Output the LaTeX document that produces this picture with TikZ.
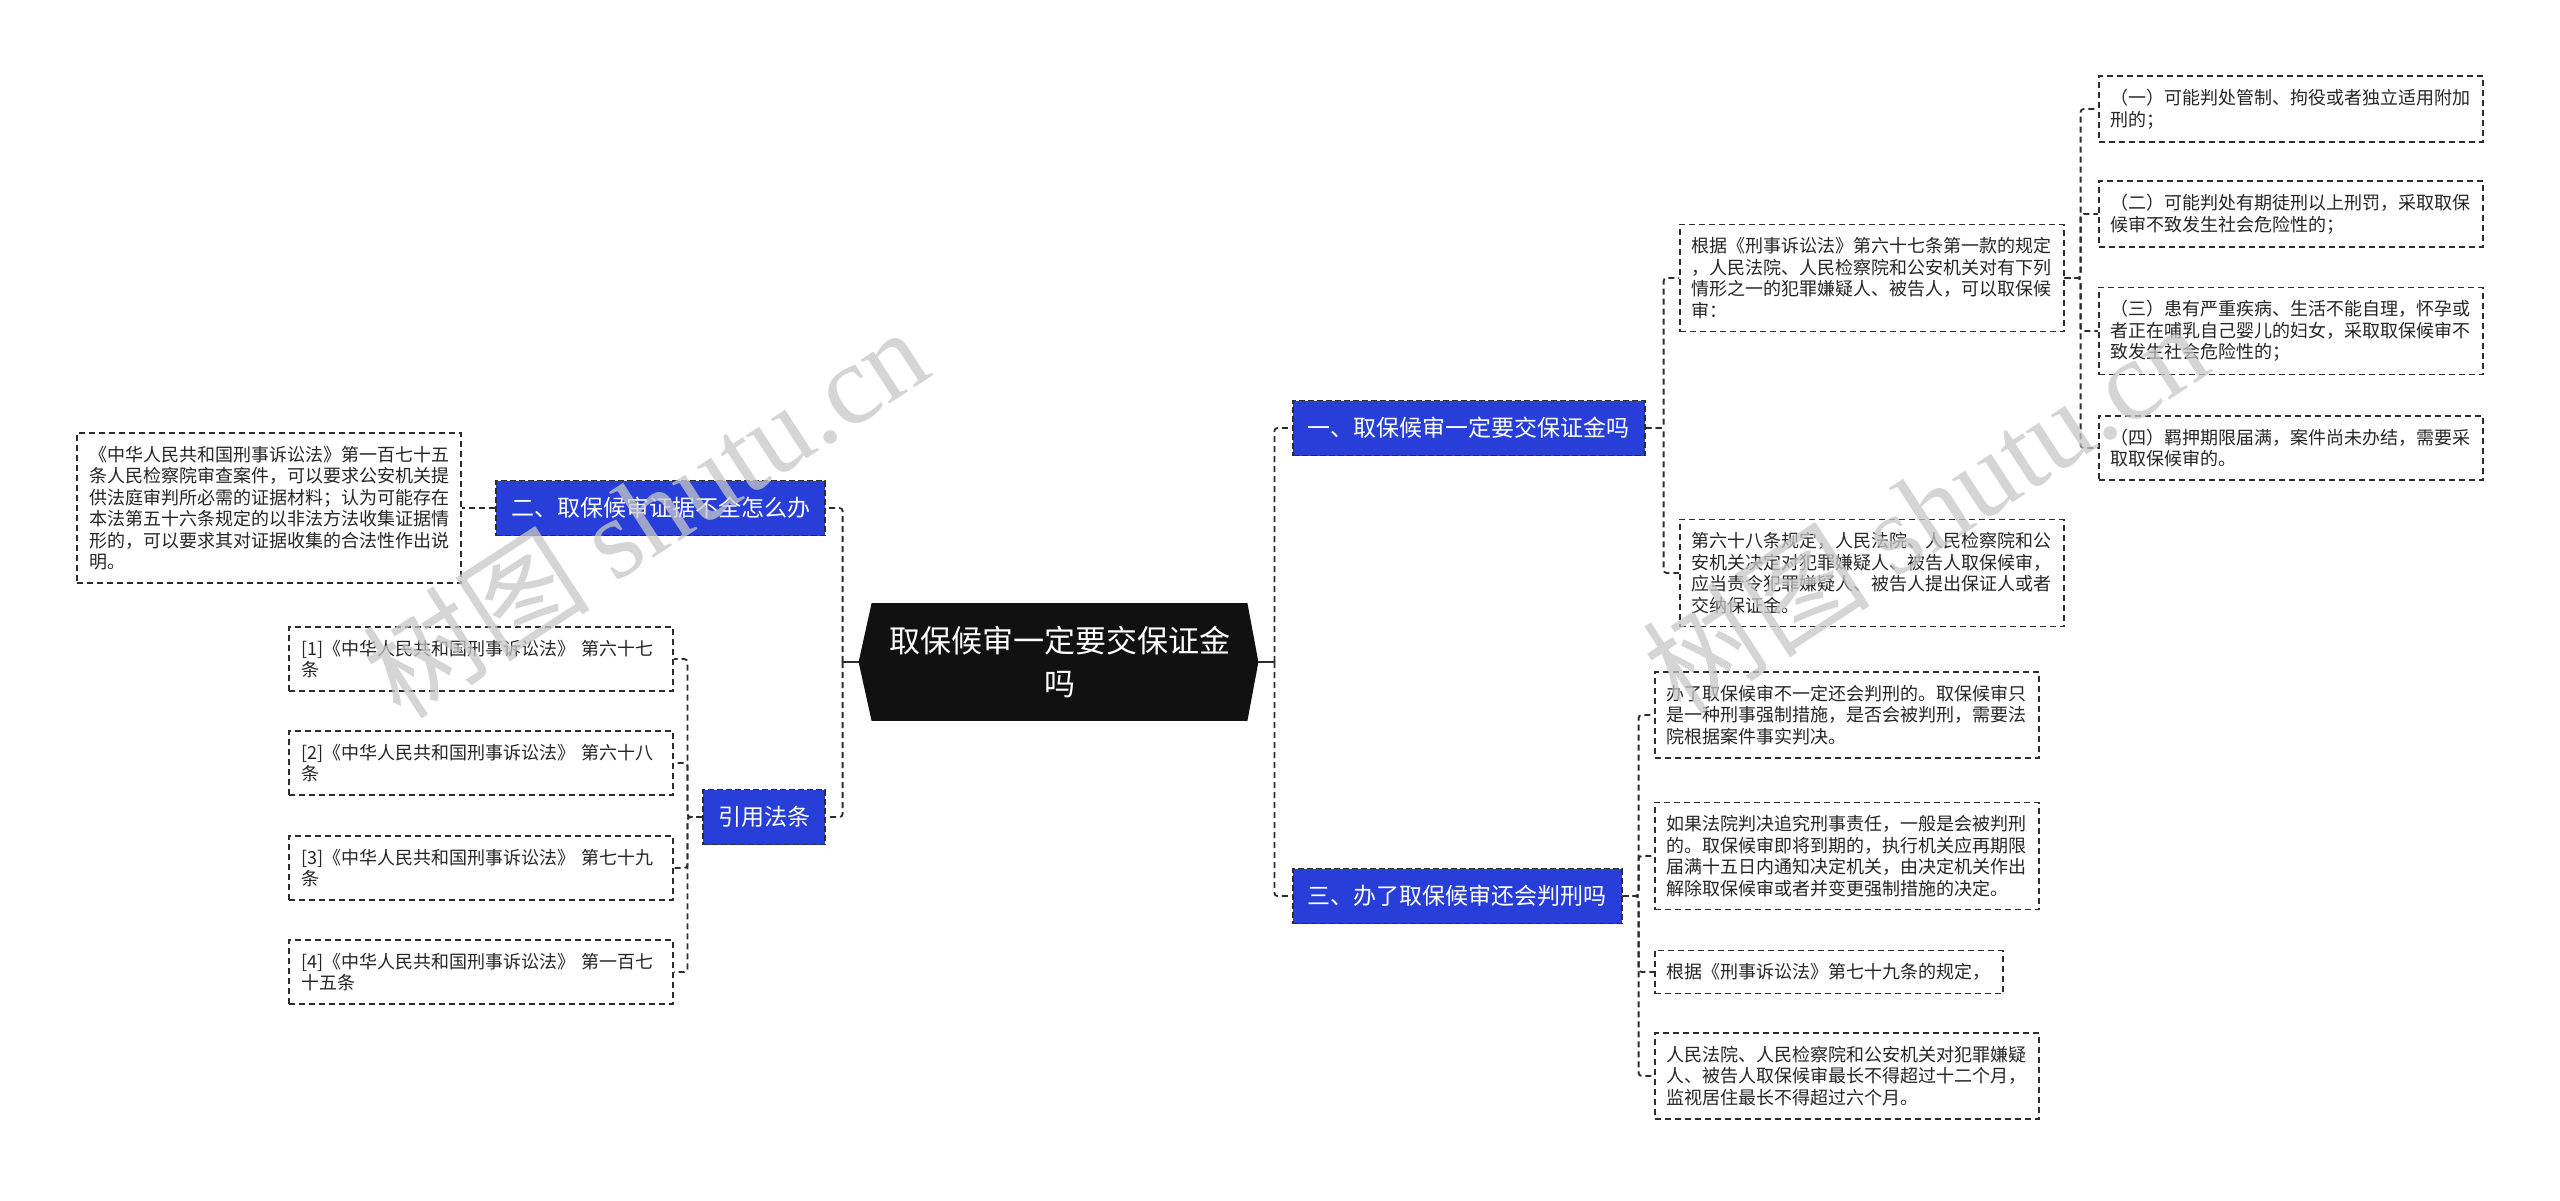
\documentclass[tikz,border=0pt]{standalone}
\usepackage{fontspec}
\setmainfont{Noto Sans CJK SC}
\newfontfamily\wmfont{Liberation Serif}
\usetikzlibrary{backgrounds}
\definecolor{bluebox}{RGB}{40,62,216}
\definecolor{lineclr}{RGB}{45,45,45}
\definecolor{rootfill}{RGB}{17,17,17}
\tikzset{
  conn/.style={draw=lineclr, line width=0.9pt, dash pattern=on 3pt off 2pt, rounded corners=1.5pt},
  rootconn/.style={draw=lineclr, line width=1pt},
  topic/.style={draw=lineclr, dash pattern=on 3pt off 1.5pt, line width=0.8pt, fill=bluebox, text=white,
    font=\fontsize{11.5pt}{13pt}\selectfont, inner xsep=7.5pt, inner ysep=0pt, minimum height=27.5pt},
  leaf/.style={draw=lineclr, dash pattern=on 3pt off 2pt, line width=0.8pt, fill=white, text=black!85,
    font=\fontsize{9pt}{10.75pt}\selectfont, align=left, inner xsep=6pt, inner ysep=6.5pt},
  wleaf/.style={leaf, text width=180pt},
  rootbox/.style={text=white, font=\fontsize{15.5pt}{21.5pt}\selectfont, align=center,
    minimum width=187.5pt, minimum height=58.5pt, inner sep=0pt},
  wm/.style={text=black!22, opacity=0.75, font=\fontsize{57pt}{60pt}\selectfont, inner sep=0pt},
}
\begin{document}
\begin{tikzpicture}[x=0.5pt, y=-0.5pt]
\useasboundingbox (0,0) rectangle (2560,1200);

% root
\node[rootbox] (root) at (1059.5,662) {取保候审一定要交保证金\\吗};
\begin{scope}[on background layer]
\fill[white] (0,0) rectangle (2560,1200);
\fill[rootfill] (root.north west) -- (root.north east) -- ([xshift=5.5pt]root.east) -- (root.south east)
  -- (root.south west) -- ([xshift=-6.5pt]root.west) -- cycle;
\end{scope}
\coordinate (rootR) at ([xshift=5.5pt]root.east);
\coordinate (rootL) at ([xshift=-6.5pt]root.west);

% left side
\node[topic, anchor=east] (b2) at (826,508) {二、取保候审证据不全怎么办};
\node[wleaf, anchor=east] (b2a) at (462,508) {《中华人民共和国刑事诉讼法》第一百七十五\\条人民检察院审查案件，可以要求公安机关提\\供法庭审判所必需的证据材料；认为可能存在\\本法第五十六条规定的以非法方法收集证据情\\形的，可以要求其对证据收集的合法性作出说\\明。};
\node[topic, anchor=east] (ref) at (826,817) {引用法条};
\node[wleaf, anchor=east] (r1) at (674,659) {[1]《中华人民共和国刑事诉讼法》 第六十七\\条};
\node[wleaf, anchor=east] (r2) at (674,763) {[2]《中华人民共和国刑事诉讼法》 第六十八\\条};
\node[wleaf, anchor=east] (r3) at (674,868) {[3]《中华人民共和国刑事诉讼法》 第七十九\\条};
\node[wleaf, anchor=east] (r4) at (674,972) {[4]《中华人民共和国刑事诉讼法》 第一百七\\十五条};

% right side
\node[topic, anchor=west] (b1) at (1292,428) {一、取保候审一定要交保证金吗};
\node[wleaf, anchor=west] (a1) at (1679,278) {根据《刑事诉讼法》第六十七条第一款的规定\\，人民法院、人民检察院和公安机关对有下列\\情形之一的犯罪嫌疑人、被告人，可以取保候\\审：};
\node[wleaf, anchor=west] (a2) at (1679,573) {第六十八条规定，人民法院、人民检察院和公\\安机关决定对犯罪嫌疑人、被告人取保候审，\\应当责令犯罪嫌疑人、被告人提出保证人或者\\交纳保证金。};
\node[wleaf, anchor=west] (s1) at (2098,109) {（一）可能判处管制、拘役或者独立适用附加\\刑的；};
\node[wleaf, anchor=west] (s2) at (2098,214) {（二）可能判处有期徒刑以上刑罚，采取取保\\候审不致发生社会危险性的；};
\node[wleaf, anchor=west] (s3) at (2098,331) {（三）患有严重疾病、生活不能自理，怀孕或\\者正在哺乳自己婴儿的妇女，采取取保候审不\\致发生社会危险性的；};
\node[wleaf, anchor=west] (s4) at (2098,448) {（四）羁押期限届满，案件尚未办结，需要采\\取取保候审的。};

\node[topic, anchor=west] (b3) at (1292,896) {三、办了取保候审还会判刑吗};
\node[wleaf, anchor=west] (c1) at (1654,715) {办了取保候审不一定还会判刑的。取保候审只\\是一种刑事强制措施，是否会被判刑，需要法\\院根据案件事实判决。};
\node[wleaf, anchor=west] (c2) at (1654,856) {如果法院判决追究刑事责任，一般是会被判刑\\的。取保候审即将到期的，执行机关应再期限\\届满十五日内通知决定机关，由决定机关作出\\解除取保候审或者并变更强制措施的决定。};
\node[leaf, anchor=west] (c3) at (1654,972) {根据《刑事诉讼法》第七十九条的规定，};
\node[wleaf, anchor=west] (c4) at (1654,1076) {人民法院、人民检察院和公安机关对犯罪嫌疑\\人、被告人取保候审最长不得超过十二个月，\\监视居住最长不得超过六个月。};

% connectors
\draw[rootconn] (rootR) -- ([xshift=8pt]rootR);
\draw[conn] ([xshift=8pt]rootR) |- (b1.west);
\draw[conn] ([xshift=8pt]rootR) |- (b3.west);
\draw[rootconn] (rootL) -- ([xshift=-8pt]rootL);
\draw[conn] ([xshift=-8pt]rootL) |- (b2.east);
\draw[conn] ([xshift=-8pt]rootL) |- (ref.east);

\draw[conn] (b2.west) -- (b2a.east);
\foreach \n in {r1,r2,r3,r4}{
  \draw[conn] (ref.west) -- ([xshift=-7.5pt]ref.west) |- (\n.east);
}
\foreach \n in {a1,a2}{
  \draw[conn] (b1.east) -- ([xshift=9pt]b1.east) |- (\n.west);
}
\foreach \n in {s1,s2,s3,s4}{
  \draw[conn] (a1.east) -- ([xshift=8pt]a1.east) |- (\n.west);
}
\foreach \n in {c1,c2,c3,c4}{
  \draw[conn] (b3.east) -- ([xshift=8pt]b3.east) |- (\n.west);
}

% watermarks
\node[wm, rotate=33] (wm1) at (645,512) {树图 {\wmfont shutu.cn}};
\node[wm, rotate=33] (wm2) at (1925,508) {树图 {\wmfont shutu.cn}};
\end{tikzpicture}
\end{document}
